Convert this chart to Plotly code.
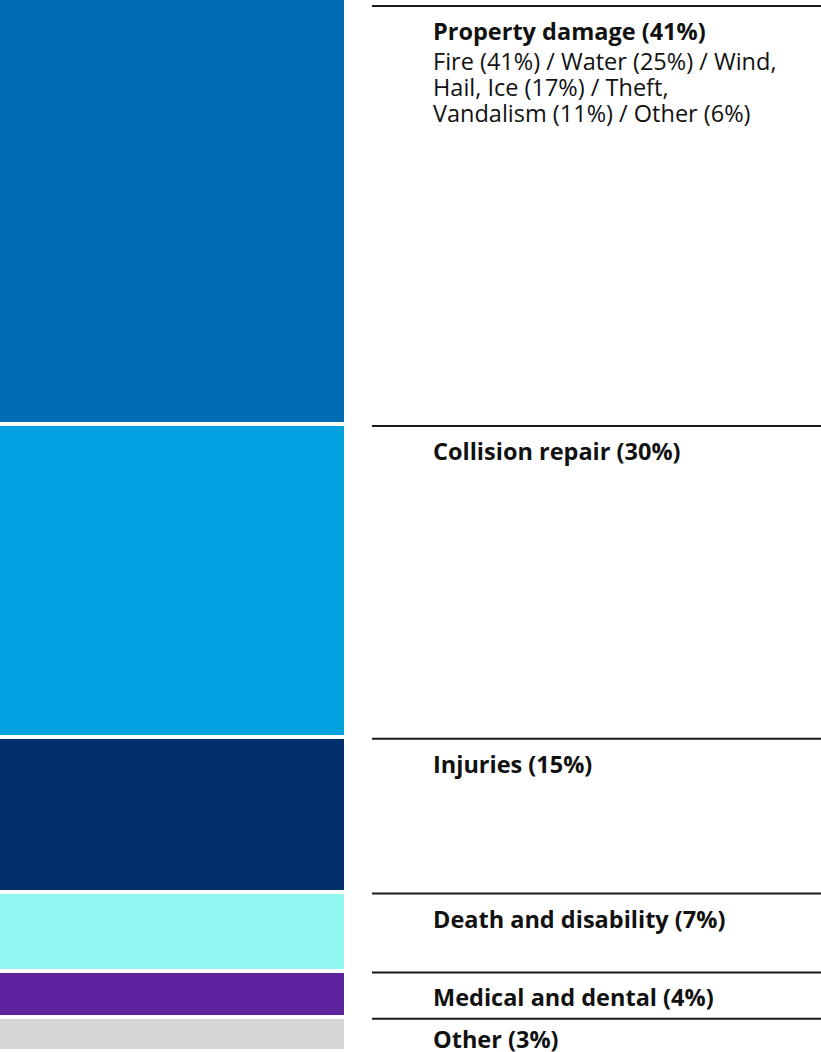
import plotly.graph_objects as go

# ---- data ----
categories = ["Property damage", "Collision repair", "Injuries",
              "Death and disability", "Medical and dental", "Other"]
values = [40.5, 29.7, 14.7, 7.5, 4.4, 3.2]
pct_labels = ["41%", "30%", "15%", "7%", "4%", "3%"]
sub_lines = {
    "Property damage": ["Fire (41%) / Water (25%) / Wind,",
                        "Hail, Ice (17%) / Theft,",
                        "Vandalism (11%) / Other (6%)"],
}
colors = ["#006CB4", "#00A3E0", "#002F6C", "#90F8EE", "#5E249F", "#D6D6D6"]

# ---- layout geometry ----
W, H = 821, 1052
FONT = "Open Sans"
FS = 23.5
total = sum(values)
k = 1053 / total          # pixels per unit
r0 = 2 / k                # top of range (data units)
r1 = r0 + H / k           # bottom of range
xk = 348.0                # pixels per x unit
x0 = -0.5 + 2 / xk
x1 = x0 + W / xk

fig = go.Figure()
for cat, v, c in zip(categories, values, colors):
    fig.add_trace(go.Bar(
        x=[0], y=[v], name=cat, width=1,
        marker=dict(color=c, line=dict(color="white", width=4)),
        hoverinfo="skip", showlegend=False,
    ))

starts = []
acc = 0
for v in values:
    starts.append(acc)
    acc += v

shapes = []
annotations = []
n = len(categories)
for i, (cat, s, p) in enumerate(zip(categories, starts, pct_labels)):
    pad_px = 8 if i == 0 else 1.5
    ly = s + pad_px / k
    shapes.append(dict(type="line", xref="paper", yref="y",
                       x0=372 / W, x1=1, y0=ly, y1=ly,
                       line=dict(color="#1a1a1a", width=2)))
    base_shift = -7 if i < n - 1 else -2
    annotations.append(dict(
        xref="paper", yref="y", x=431 / W, y=ly,
        xanchor="left", yanchor="top", yshift=base_shift,
        text=f"<b>{cat} ({p})</b>", showarrow=False, align="left",
        font=dict(family=FONT, size=FS, color="#111111"),
    ))
    for j, line in enumerate(sub_lines.get(cat, [])):
        annotations.append(dict(
            xref="paper", yref="y", x=431 / W, y=ly,
            xanchor="left", yanchor="top",
            yshift=base_shift - 30 - 26 * j,
            text=line, showarrow=False, align="left",
            font=dict(family=FONT, size=FS, color="#111111"),
        ))

fig.update_layout(
    width=W, height=H,
    margin=dict(l=0, r=0, t=0, b=0),
    paper_bgcolor="white", plot_bgcolor="white",
    barmode="stack", bargap=0,
    xaxis=dict(range=[x0, x1], visible=False, fixedrange=True),
    yaxis=dict(range=[r1, r0], visible=False, fixedrange=True),
    shapes=shapes, annotations=annotations,
)

fig.write_html("out.html")
